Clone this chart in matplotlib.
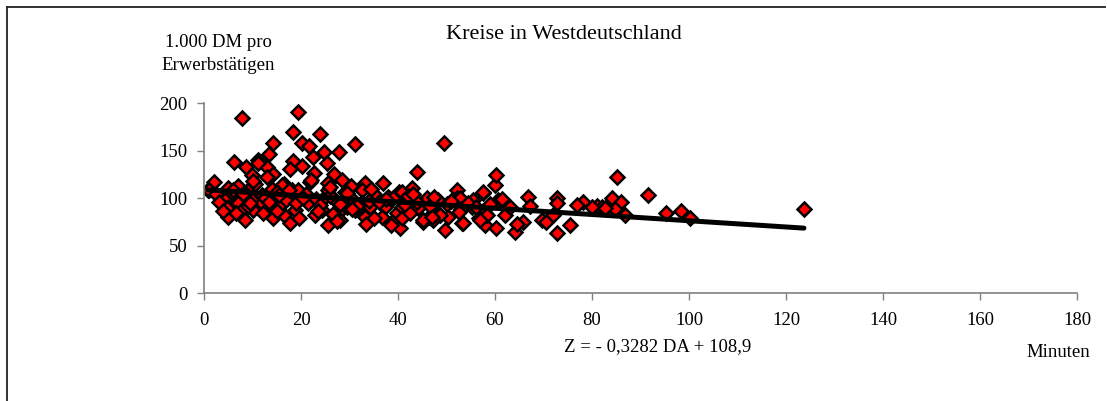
import numpy as np
import matplotlib
matplotlib.use("Agg")
import matplotlib.pyplot as plt
from matplotlib.lines import Line2D

# Fahrzeit (Minuten) und Produktivitaet (1.000 DM pro Erwerbstaetigen),
# abgelesen aus der Vorlage, je Zeile zehn Kreise
minuten = [
    0.8, 2.0, 7.8, 19.4, 18.3, 23.9, 14.2, 20.3, 21.7, 31.1,
    27.9, 24.8, 13.3, 22.5, 6.2, 11.2, 25.3, 18.3, 8.7, 12.9,
    17.7, 20.3, 9.8, 14.3, 22.7, 26.8, 43.9, 21.9, 16.4, 11.2,
    1.0, 5.0, 7.1, 9.8, 14.0, 16.0, 18.1, 3.6, 5.7, 7.8,
    11.9, 4.3, 7.1, 9.8, 11.9, 16.0, 5.0, 7.8, 10.2, 14.0,
    18.8, 4.7, 5.0, 8.5, 14.3, 16.4, 17.7, 12.2, 28.4, 25.6,
    33.2, 37.0, 30.4, 25.6, 29.1, 32.5, 40.1, 19.4, 35.3, 38.0,
    21.5, 24.3, 27.0, 29.4, 32.5, 34.2, 37.3, 39.7, 24.3, 27.7,
    31.1, 33.2, 36.6, 38.7, 25.6, 28.0, 40.4, 22.9, 49.5, 60.0,
    40.8, 42.9, 45.9, 52.1, 52.1, 57.6, 60.7, 43.5, 48.3, 40.8,
    44.2, 48.3, 55.2, 58.0, 40.8, 45.2, 49.7, 53.1, 58.0, 60.3,
    50.4, 56.6, 46.3, 60.3, 61.4, 66.9, 67.2, 72.7, 72.7, 78.2,
    81.0, 62.1, 65.8, 69.6, 72.0, 75.5, 72.7, 64.1, 63.1, 85.1,
    91.5, 84.1, 85.9, 84.7, 82.0, 86.8, 95.2, 98.3, 100.2, 123.7,
    82.7, 57.6, 58.3, 56.9, 52.8, 53.5, 48.7, 47.3, 45.2, 55.5,
    2.5, 3.0, 4.0, 6.0, 8.0, 9.0, 10.5, 12.5, 13.5, 15.0,
    17.0, 19.0, 21.0, 23.0, 24.0, 26.0, 28.0, 30.0, 31.5, 34.0,
    36.0, 39.0, 41.5, 42.0, 44.0, 46.5, 47.5, 50.0, 51.0, 53.0,
    54.5, 56.0, 59.0, 15.5, 20.5, 23.5, 26.5, 30.5, 35.0, 42.5,
    47.0, 52.5, 6.5, 10.0, 13.0, 17.5, 22.0, 26.0, 29.5, 34.5,
    37.5, 43.0, 9.5, 15.0, 19.5, 27.5, 33.5, 38.5, 64.5, 70.5,
    77.0, 80.0,
]
produktivitaet = [
    108.4, 117.0, 183.9, 190.9, 169.8, 167.0, 157.5, 157.5, 154.7, 156.8,
    148.0, 148.8, 146.3, 142.8, 138.2, 140.0, 137.2, 139.0, 133.0, 132.3,
    130.8, 133.7, 124.2, 125.0, 126.0, 125.3, 127.7, 117.0, 114.4, 136.5,
    108.4, 111.0, 112.6, 112.6, 110.0, 113.7, 108.4, 101.4, 105.0, 101.4,
    103.0, 98.0, 95.0, 98.0, 94.4, 94.4, 90.8, 87.4, 87.4, 90.8,
    87.4, 89.0, 80.3, 76.8, 78.6, 82.0, 74.0, 84.0, 119.0, 116.0,
    116.0, 115.5, 112.6, 108.4, 106.6, 108.4, 106.6, 108.4, 103.0, 101.4,
    94.4, 98.0, 98.0, 90.8, 94.4, 90.8, 90.8, 84.0, 87.4, 84.0,
    87.4, 80.3, 80.3, 75.0, 71.6, 76.8, 68.0, 82.0, 157.5, 113.7,
    106.6, 110.2, 99.7, 108.4, 99.7, 105.0, 98.0, 99.7, 98.0, 90.8,
    89.0, 82.0, 90.8, 84.0, 78.6, 75.0, 66.3, 73.4, 71.6, 68.0,
    80.3, 78.6, 80.3, 124.2, 98.6, 101.4, 91.6, 99.7, 94.4, 96.1,
    91.6, 82.0, 75.0, 76.8, 82.0, 71.6, 62.8, 64.5, 90.8, 121.8,
    103.2, 99.7, 96.1, 88.1, 90.2, 82.0, 84.5, 86.3, 78.6, 88.1,
    89.0, 106.6, 82.0, 76.8, 99.7, 73.4, 82.0, 76.8, 76.8, 98.0,
    104.0, 96.0, 86.0, 108.0, 104.0, 92.0, 115.0, 100.0, 96.0, 106.0,
    98.0, 95.0, 104.0, 99.0, 93.0, 102.0, 94.0, 101.0, 92.0, 97.0,
    96.0, 100.0, 93.0, 102.0, 96.0, 92.0, 101.0, 94.0, 97.0, 88.0,
    95.0, 91.0, 94.0, 103.0, 100.0, 86.0, 83.0, 88.0, 79.0, 84.0,
    80.0, 85.0, 84.0, 118.0, 122.0, 108.0, 119.0, 112.0, 105.0, 110.0,
    99.0, 104.0, 95.0, 86.0, 79.0, 76.0, 73.0, 72.0, 73.0, 75.0,
    93.0, 91.0,
]

steigung = -0.3282
achsenabschnitt = 108.9

x_ticks = [0, 20, 40, 60, 80, 100, 120, 140, 160, 180]
y_ticks = [0, 50, 100, 150, 200]

plt.rcParams["font.family"] = ["Liberation Serif", "DejaVu Serif"]

fig = plt.figure(figsize=(11.07, 4.01), dpi=100)
ax = fig.add_axes([0.1843, 0.2693, 0.7886, 0.4738])

x = np.array(minuten)
y = np.array(produktivitaet)
ax.plot(x, y, ls="none", marker="D", ms=7.0, mfc="#ff0000", mec="black",
        mew=1.8, zorder=2)

xl = np.array([x.min(), x.max()])
ax.plot(xl, steigung * xl + achsenabschnitt, color="black", lw=3.6,
        solid_capstyle="round", zorder=3)

ax.set_xlim(0, 180)
ax.set_ylim(0, 200)
ax.set_xticks(x_ticks)
ax.set_yticks(y_ticks)
ax.tick_params(direction="out", length=5, width=1, color="#808080",
               labelsize=13.5)
ax.tick_params(axis="x", pad=9)
ax.tick_params(axis="y", pad=7)
for side in ("top", "right"):
    ax.spines[side].set_visible(False)
for side in ("left", "bottom"):
    ax.spines[side].set_color("#808080")
    ax.spines[side].set_linewidth(1.2)

fig.text(0.509, 0.913, "Kreise in Westdeutschland", ha="center", va="center",
         fontsize=16)
fig.text(0.197, 0.865, "1.000 DM pro\nErwerbstätigen", ha="center",
         va="center", fontsize=13.5, linespacing=1.5)
fig.text(0.594, 0.135, "Z = - 0,3282 DA + 108,9", ha="center", va="center",
         fontsize=13.5)
fig.text(0.956, 0.12, "Minuten", ha="center", va="center", fontsize=13.5)

# Rahmen (nur oben und links sichtbar)
fig.add_artist(Line2D([7 / 1107, 1105 / 1107], [1 - 7 / 401, 1 - 7 / 401],
                      color="#222222", lw=1.3, transform=fig.transFigure))
fig.add_artist(Line2D([7 / 1107, 7 / 1107], [0, 1 - 7 / 401],
                      color="#222222", lw=1.3, transform=fig.transFigure))

fig.savefig("out.png", dpi=100)
